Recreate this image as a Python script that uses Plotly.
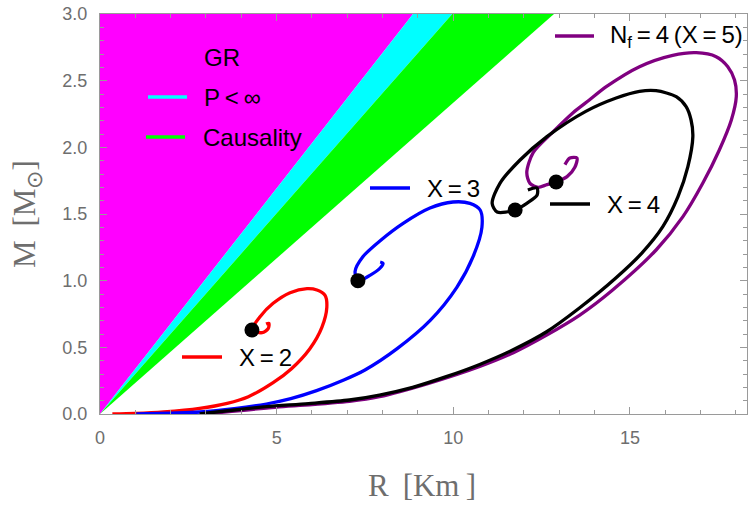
import plotly.graph_objects as go

# ---------------- data ----------------
# limiting lines: radius (km) where each bound reaches the top of the plot (M = 3 Msun)
M_top = 3.0
bound_names = ["GR", "P<inf", "Causality"]
bound_R_at_top = [8.86, 9.97, 12.85]
bound_colors = ["#ff00ff", "#00ffff", "#00ff00"]

# X = 2 (red)
red_R = [0.35, 1.0, 1.8, 2.82, 3.6, 4.2, 4.90, 5.42, 5.94, 6.28, 6.42, 6.37, 6.14, 5.86, 5.38,
         4.90, 4.53, 4.30, 4.59, 4.76, 4.78, 4.70]
red_M = [0.0, 0.004, 0.015, 0.042, 0.08, 0.13, 0.235, 0.34, 0.49, 0.65, 0.80, 0.89, 0.93, 0.94, 0.91,
         0.83, 0.73, 0.63, 0.61, 0.64, 0.68, 0.675]

# X = 3 (blue)
blue_R = [1.03, 2.0, 2.82, 3.8, 4.71, 5.4, 6.13, 6.9, 7.5, 8.41, 9.34, 10.10, 10.56, 10.81, 10.76,
          10.47, 9.99, 9.34, 8.58, 7.93, 7.44, 7.22, 7.30, 7.64, 7.93, 8.01, 7.93]
blue_M = [0.0, 0.007, 0.015, 0.04, 0.075, 0.115, 0.175, 0.255, 0.33, 0.49, 0.70, 0.95, 1.18, 1.40,
          1.53, 1.58, 1.59, 1.545, 1.43, 1.30, 1.18, 1.07, 1.00, 1.04, 1.095, 1.13, 1.14]

# X = 4 (black)
black_R = [2.82, 3.8, 4.71, 5.9, 7.06, 7.91, 8.85, 9.80, 10.73, 11.68, 12.63, 13.57, 14.6, 15.33,
           15.93, 16.36, 16.64, 16.78, 16.73, 16.59, 16.31, 15.74, 15.27, 14.61, 13.75, 12.65,
           11.89, 11.32, 11.10, 11.24, 11.75, 12.08, 12.37, 12.37, 12.11]
black_M = [0.0, 0.03, 0.055, 0.078, 0.105, 0.142, 0.20, 0.28, 0.37, 0.48, 0.615, 0.795, 1.02, 1.205,
           1.405, 1.63, 1.855, 2.08, 2.205, 2.305, 2.38, 2.425, 2.42, 2.37, 2.27, 2.08,
           1.905, 1.73, 1.58, 1.515, 1.53, 1.58, 1.64, 1.695, 1.68]

# N_f = 4 (X = 5) (purple)
purple_R = [3.0, 4.71, 7.06, 7.91, 9.3, 10.73, 11.7, 12.63, 13.57, 14.51, 15.74, 16.50, 17.06, 17.53,
            17.87, 18.01, 17.96, 17.77, 17.44, 16.88, 16.21, 15.27, 14.33, 13.85, 13.39, 12.80,
            12.26, 12.08, 12.17, 12.40, 12.65, 12.91, 13.22, 13.44, 13.50, 13.30, 13.16]
purple_M = [0.0, 0.045, 0.095, 0.13, 0.23, 0.355, 0.46, 0.59, 0.74, 0.93, 1.23, 1.48, 1.73, 1.98,
            2.205, 2.38, 2.505, 2.605, 2.68, 2.71, 2.69, 2.605, 2.455, 2.355, 2.26, 2.11,
            1.96, 1.81, 1.73, 1.70, 1.72, 1.74, 1.78, 1.85, 1.92, 1.92, 1.87]

# marked points
dot_R = [4.30, 7.30, 11.75, 12.91]
dot_M = [0.63, 1.00, 1.53, 1.74]

x_ticks = [0, 5, 10, 15]
y_ticks = [0.0, 0.5, 1.0, 1.5, 2.0, 2.5, 3.0]
y_tick_text = ["0.0", "0.5", "1.0", "1.5", "2.0", "2.5", "3.0"]

# ---------------- figure ----------------
W, H = 750, 509
L, R_, T, B = 100, 3, 14, 95
PW, PH = W - L - R_, H - T - B
XMAX = PW / 35.33

fig = go.Figure()

# forbidden regions
poly_R = [
    [0, bound_R_at_top[0], 0],
    [0, bound_R_at_top[1], bound_R_at_top[0]],
    [0, bound_R_at_top[2], bound_R_at_top[1]],
]
for pr, col in zip(poly_R, bound_colors):
    fig.add_trace(go.Scatter(x=pr, y=[0, M_top, M_top], fill="toself", fillcolor=col,
                             line=dict(width=0, color=col), mode="lines",
                             hoverinfo="skip", showlegend=False))

curves = [
    (red_R, red_M, "#ff0000"),
    (blue_R, blue_M, "#0000ff"),
    (purple_R, purple_M, "#800080"),
    (black_R, black_M, "#000000"),
]
for cr, cm, col in curves:
    fig.add_trace(go.Scatter(x=cr, y=cm, mode="lines",
                             line=dict(color=col, width=3.3, shape="spline", smoothing=0.8),
                             showlegend=False))

fig.add_trace(go.Scatter(x=dot_R, y=dot_M, mode="markers",
                         marker=dict(color="black", size=15), showlegend=False))


def px(xp):
    return (xp - L) / PW


def py(yp):
    return (H - B - yp) / PH


TS = "\u2009"
legend_items = [
    # (line x0, x1, y, color, text, text x)
    (148, 187, 97, "#00ffff", "P" + TS + "<" + TS + "∞", 202),
    (146, 185, 137, "#00ff00", "Causality", 201),
    (370, 410, 188, "#0000ff", "X" + TS + "=" + TS + "3", 425),
    (182, 222, 357, "#ff0000", "X" + TS + "=" + TS + "2", 237),
    (550, 590, 204, "#000000", "X" + TS + "=" + TS + "4", 605),
    (555, 594, 36, "#800080",
     "N<sub>f</sub>" + TS + "=" + TS + "4" + TS + "(X" + TS + "=" + TS + "5)", 608),
]
lfont = dict(family="Liberation Sans, Arial, sans-serif", size=24, color="black")
for x0, x1, yy, col, txt, tx in legend_items:
    fig.add_shape(type="line", xref="paper", yref="paper", x0=px(x0), x1=px(x1),
                  y0=py(yy), y1=py(yy), line=dict(color=col, width=3.5))
    fig.add_annotation(xref="paper", yref="paper", x=px(tx), y=py(yy), text=txt,
                       showarrow=False, xanchor="left", yanchor="middle", font=lfont)

fig.add_annotation(xref="paper", yref="paper", x=px(222), y=py(58), text="GR",
                   showarrow=False, xanchor="center", yanchor="middle", font=lfont)

# axis titles
tfont = dict(family="Liberation Serif, Times New Roman, serif", size=31, color="#6e6e6e")
fig.add_annotation(xref="paper", yref="paper", x=px(422), y=py(485),
                   text="R" + TS + " [Km" + TS + "]", showarrow=False,
                   xanchor="center", yanchor="middle", font=tfont)
fig.add_annotation(xref="paper", yref="paper", x=px(27), y=py(214),
                   text="M" + TS + " [M<sub>⊙</sub>]", textangle=-90, showarrow=False,
                   xanchor="center", yanchor="middle", font=tfont)

axcol = "#9a9a9a"
tickfont = dict(family="Liberation Sans, Arial, sans-serif", size=18, color="#6e6e6e")
fig.update_xaxes(range=[0, XMAX], tickvals=x_ticks, ticks="inside", ticklen=7, tickcolor=axcol,
                 showline=True, linecolor=axcol, linewidth=1, mirror="allticks",
                 showgrid=False, zeroline=False, tickfont=tickfont, ticklabelstandoff=7,
                 minor=dict(dtick=1, tick0=0, ticks="inside", ticklen=4, tickcolor=axcol,
                            showgrid=False))
fig.update_yaxes(range=[0, 3.0], tickvals=y_ticks, ticktext=y_tick_text, ticks="inside",
                 ticklen=7, tickcolor=axcol,
                 showline=True, linecolor=axcol, linewidth=1, mirror="allticks",
                 showgrid=False, zeroline=False, tickfont=tickfont, ticklabelstandoff=8,
                 minor=dict(dtick=0.1, tick0=0, ticks="inside", ticklen=4, tickcolor=axcol,
                            showgrid=False))

fig.update_layout(width=W, height=H, margin=dict(l=L, r=R_, t=T, b=B),
                  plot_bgcolor="white", paper_bgcolor="white", showlegend=False)

fig.write_html("out.html", config={"displayModeBar": False},
               post_script="document.body.style.margin='0px';document.body.style.padding='0px';")
